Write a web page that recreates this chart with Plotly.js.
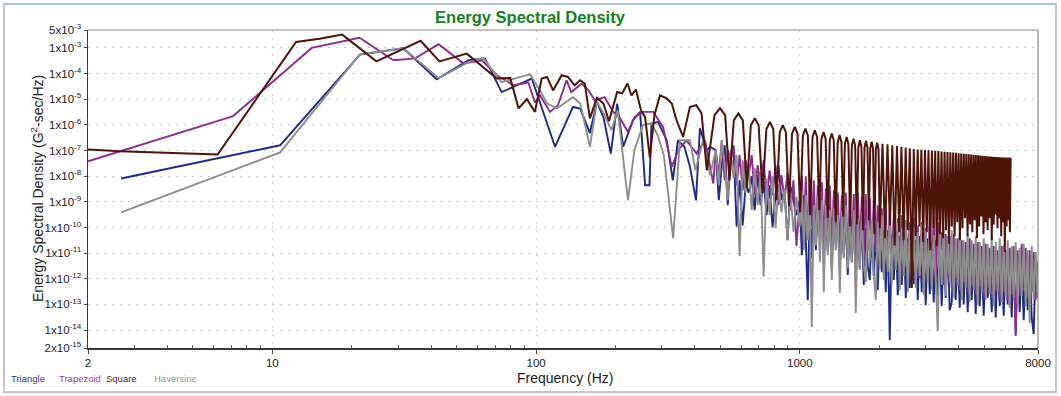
<!DOCTYPE html>
<html><head><meta charset="utf-8">
<script src="https://cdn.plot.ly/plotly-3.0.1.min.js"></script>
<style>
html,body{margin:0;padding:0;background:#fff;}
#wrap{position:relative;width:1061px;height:396px;overflow:hidden;}
#chart{width:1061px;height:396px;}
#frame{position:absolute;left:3px;top:3px;width:1050px;height:386px;border:2px solid #c3c6c9;border-top-color:#a9c3d1;pointer-events:none;}
</style></head><body>
<div id="wrap"><div id="chart"></div><div id="frame"></div></div>
<script>
// ---- tick labels ----
const xTickVals = [2, 10, 100, 1000, 8000];
const xTickText = ['2', '10', '100', '1000', '8000'];
const xMinorVals = [3,4,5,6,7,8,9,20,30,40,50,60,70,80,90,200,300,400,500,600,700,800,900,2000,3000,4000,5000,6000,7000];
const yTickVals = [5e-3,1e-3,1e-4,1e-5,1e-6,1e-7,1e-8,1e-9,1e-10,1e-11,1e-12,1e-13,1e-14,2e-15];
const yTickText = ['5x10<sup>-3</sup>','1x10<sup>-3</sup>','1x10<sup>-4</sup>','1x10<sup>-5</sup>','1x10<sup>-6</sup>','1x10<sup>-7</sup>','1x10<sup>-8</sup>','1x10<sup>-9</sup>','1x10<sup>-10</sup>','1x10<sup>-11</sup>','1x10<sup>-12</sup>','1x10<sup>-13</sup>','1x10<sup>-14</sup>','2x10<sup>-15</sup>'];

// ---- series names ----
const seriesNames = ['Triangle', 'Trapezoid', 'Square', 'Haversine'];

// ---- low / mid frequency parts (Hz, G^2-sec/Hz) ----
const triFreqLow = [2.67,10.7,21.5,31.4,42,55.4,64,74,82,96.3,118,138,147,160,170,180,192,203,214,233,248,259,269,274,290,313,330,345,365,383,404,418,444,457];
const triEsdLow = [8.1e-9,1.6e-7,5.5e-4,9.7e-4,6e-5,3.3e-4,3.9e-4,1.9e-5,3e-5,6.4e-5,1.4e-7,5e-6,4.3e-6,4.8e-7,7.8e-6,2e-6,7.6e-8,6.8e-6,1.4e-7,1.5e-6,3.2e-6,4.4e-9,4.4e-9,1.1e-6,1.3e-6,2.5e-7,6.9e-9,2.5e-7,1.4e-7,2.4e-8,1.15e-9,7.3e-7,1.03e-7,1.4e-7];

const trapFreqLow = [2.0,7.1,14.1,21.4,28.8,34.8,42.7,53,62.3,71,82,93.5,99,103.5,113,121,130.5,136,149,158,167,182,196,207,223,236,254,278,303,327,346,372,406,437,470];
const trapEsdLow = [3.8e-8,2.2e-6,1e-3,2.5e-3,3.3e-4,3.9e-4,1.4e-3,2.5e-4,3.3e-4,8.6e-5,3.5e-5,4.5e-5,7.5e-6,1.4e-5,3.2e-6,5.8e-6,5.5e-5,1.9e-5,4.1e-5,2.2e-5,9.1e-6,1.2e-5,3.2e-6,2e-6,5.3e-7,2e-6,3.2e-6,3.2e-6,8.4e-7,2.3e-8,1.03e-7,2.5e-7,7.6e-8,2.5e-7,5.2e-9];

const havFreqLow = [2.67,10.7,21.5,31.4,42.7,55.4,63.1,74,84.5,94.9,103.5,110,120,138,147,160,170,182,193,204,223,236,254,274,289,305,331,351,383,402,430,457];
const havEsdLow = [3.9e-10,8.5e-8,5.7e-4,9.7e-4,6.6e-5,2.8e-4,4e-4,4.6e-5,6.8e-5,9.3e-5,2.2e-5,6.8e-6,4.4e-6,1.2e-5,6.8e-6,1.4e-7,7.9e-6,2.4e-6,6.2e-7,3.7e-6,1.15e-9,1.03e-7,9.8e-7,1.15e-6,4e-7,6.6e-8,3.8e-11,2.5e-7,2.5e-7,1.7e-8,2.5e-7,1.1e-8];

const sqFreqLow = [2.0,2.65,6.2,12.3,15.1,18.4,24.8,36.5,43,54.6,71,79.8,85.8,92.3,99,105,110,116,125,132,140,147,153,160,170,180,189,203,212,222,230,239,250,259,270,281,295,312,327,341,361,383,405,424,444];
const sqEsdLow = [1.1e-7,9.3e-8,7e-8,1.7e-3,2.3e-3,3.3e-3,3e-4,1.9e-3,3e-4,6e-4,6.4e-5,6.8e-5,4.4e-6,1e-5,3.2e-6,6.4e-5,7.4e-5,2.2e-5,8.6e-5,7.4e-5,3.5e-5,5.5e-5,4.1e-5,1.8e-6,1.15e-5,6.8e-6,1.4e-6,1.9e-5,1.7e-5,4.1e-5,1.4e-5,2.4e-5,3.7e-6,2e-6,5.3e-8,2.4e-6,1.4e-5,1.1e-5,6.8e-6,1.5e-6,3.4e-7,5e-6,5.9e-6,2.8e-6,1.7e-8];

// ---- high frequency part: shared read-out grid (Hz) ----
const hfFreq = [480,493,506,519,533,547,561,576,591,607,623,640,657,674,692,710,729,748,768,788,809,830,852,875,898,922,946,971,
1000,1018,1036,1054,1072,1091,1110,1130,1150,1170,
1191,1212,1233,1255,1277,1299,1322,1346,1369,1393,
1418,1443,1468,1494,1520,1547,1574,1602,1630,1659,
1688,1718,1748,1779,1810,1842,1874,1907,1941,1975,
2010,2045,2081,2118,2155,2193,2232,2271,2311,2352,
2393,2435,2478,2522,2566,2611,2657,2704,2752,2800,
2849,2899,2950,3002,3055,3109,3164,3219,3276,3334,
3392,3452,3513,3574,3637,3701,3767,3833,3900,3969,
4039,4110,4182,4256,4331,4407,4485,4564,4644,4726,
4809,4894,4980,5068,5157,5248,5340,5434,5530,5627,
5726,5827,5930,6034,6140,6248,6358,6470,6584,6700,
6818,6938,7060,7184,7311,7440,7571,7704,7840,7978];

const triEsdHf = [1.03e-7,1.15e-9,2.7e-8,1.6e-7,7.4e-10,6.6e-8,1.03e-7,1.1e-10,6.9e-9,1.2e-10,4.4e-9,2.3e-9,1e-8,4.7e-10,1.1e-8,7.4e-10,6.9e-9,3e-10,4.4e-9,1e-10,1.8e-9,2.7e-8,1.15e-9,2.8e-9,3.2e-11,4e-9,1.15e-9,3e-10,
1.15e-9,8.3e-12,1.8e-9,3.2e-11,1.5e-13,7.4e-10,6.3e-12,1.15e-9,1.3e-11,4.7e-10,
3.8e-11,7.4e-10,4.4e-12,3.9e-10,1.1e-11,5.6e-10,2.6e-12,3e-10,2e-11,3.9e-10,
2.2e-12,1.9e-10,7.6e-12,3e-10,1.4e-12,1.6e-10,4.4e-12,2.3e-10,8.9e-13,1.2e-10,
2.6e-12,1.9e-10,5.7e-13,9.3e-11,3.1e-12,8.9e-13,1.1e-10,1.3e-12,7.8e-11,3.6e-13,
9.3e-11,1.8e-12,6.5e-11,3e-13,7.8e-11,4.1e-15,5e-11,8.9e-13,7.8e-11,2.3e-13,
4.6e-11,5.7e-13,6.5e-11,1.8e-13,3.8e-11,4.4e-13,5.5e-11,6.2e-13,3.2e-11,1.5e-13,
4.6e-11,3e-13,2.7e-11,9.4e-14,3.8e-11,2.5e-13,2.3e-11,1.2e-13,3.2e-11,2.1e-13,
1.9e-11,8.6e-14,2.7e-11,1.8e-13,1.6e-11,6e-14,1.2e-13,2.3e-11,1.5e-13,1.3e-11,
7.2e-14,1.9e-11,1e-13,1.1e-11,5e-14,1.6e-11,1.5e-13,9e-12,4.2e-14,1.3e-11,
8.6e-14,7.6e-12,3.6e-14,1.1e-11,1.8e-13,6.3e-12,5e-14,9e-12,3.1e-14,7.6e-12,
8.6e-14,5.3e-12,3.6e-14,7.6e-12,1e-13,4.4e-12,3.1e-14,6.3e-12,7e-15,4.4e-12,
5e-14,6.3e-12,2.4e-14,4.4e-12,6e-14,7.6e-12,3.1e-14,7e-15,5.3e-12,3.1e-12];

const trapEsdHf = [1.03e-7,1.1e-8,2.5e-7,6.9e-9,1.03e-7,4.2e-8,1.6e-7,4.4e-9,6.6e-8,2.8e-9,4.2e-8,1.1e-8,6.6e-8,1.8e-9,2.7e-8,4.4e-9,4.2e-8,1.15e-9,1.7e-8,1.8e-9,2.7e-8,7.4e-10,1.1e-8,1.15e-9,1.4e-8,4.7e-10,6.9e-9,1.9e-11,
1.15e-9,1.1e-8,7.8e-11,1e-8,3.2e-11,8.3e-9,1.2e-10,6.9e-9,2.7e-11,4.4e-9,
7.8e-11,5.9e-9,2e-11,3.4e-9,5e-11,4.4e-9,1.6e-11,2.8e-9,3.8e-11,2.3e-9,
1.3e-11,1.8e-9,2.7e-11,2.3e-9,8.3e-12,1.4e-9,2e-11,2e-9,6.3e-12,2.3e-9,
1.6e-11,1.6e-9,7.6e-12,2e-9,1.3e-11,1.4e-9,6.3e-12,1.15e-9,1.1e-11,7.4e-10,
4.4e-12,5.6e-10,8.3e-12,4.7e-10,3.4e-12,3.9e-10,6.3e-12,3e-10,2.6e-12,2.3e-10,
4.4e-12,3e-10,1.8e-12,1.9e-10,3.4e-12,1.6e-10,1.4e-12,2.3e-10,2.6e-12,1.2e-10,
1.06e-12,1.6e-10,2.2e-12,9.3e-11,8.9e-13,2.3e-10,1.8e-12,2.7e-10,7.4e-13,1.6e-10,
8.3e-12,6.5e-11,5.7e-13,5.5e-11,1.3e-12,4.6e-11,4.4e-13,5.5e-11,1.06e-12,3.8e-11,
3.6e-13,3.2e-11,7.4e-13,2.7e-11,3e-13,3.8e-11,5.7e-13,2.3e-11,2.5e-13,2.7e-11,
5.2e-13,1.9e-11,2.1e-13,2.3e-11,4.4e-13,1.6e-11,1.8e-13,1.9e-11,3.6e-13,1.3e-11,
1.8e-13,1.9e-11,3e-13,1.3e-11,1.5e-13,1.6e-11,2.5e-13,1.9e-11,5.9e-15,1.3e-11,
2.1e-13,2.3e-11,3.6e-13,1.6e-11,1.8e-13,1.3e-11,3e-13,1.1e-11,1.5e-13,3.8e-12];

const havEsdHf = [1.03e-7,4.4e-9,2.5e-7,2.7e-8,1.15e-9,1.03e-7,8.3e-9,6.6e-8,7.6e-12,4.2e-8,2.3e-9,2.7e-8,4.7e-10,2.1e-8,7.4e-10,1.4e-8,1.2e-12,8.3e-9,3e-10,1e-8,9.3e-11,4.8e-9,3.9e-10,3.4e-9,3.2e-11,2.3e-9,6.5e-11,1.6e-9,
1.1e-10,2.8e-9,1.3e-11,1.8e-9,3.2e-11,1.15e-9,1.3e-14,7.4e-10,2e-11,1.8e-9,
4.4e-12,1.15e-9,3e-13,7.4e-10,8.3e-12,4.7e-10,8.9e-13,5.6e-10,1.3e-11,3e-10,
2.8e-13,4.7e-10,6.3e-12,7.4e-10,2.6e-12,3e-10,4.4e-12,4.7e-10,4.6e-14,2.3e-10,
2.2e-12,3.9e-10,3.4e-12,7.4e-13,3e-10,5.3e-12,1.9e-10,1.4e-12,1.5e-13,1.6e-10,
2.6e-12,3e-10,8.9e-13,1.2e-10,1.8e-12,2.3e-10,5.7e-13,1.1e-10,2.2e-12,1.6e-10,
3.6e-13,9.3e-11,1.3e-12,1.9e-10,3e-13,7.8e-11,8.9e-13,1.2e-10,4.4e-13,6.5e-11,
1.3e-12,1.3e-10,2.3e-13,7.8e-11,7.4e-13,1.1e-10,3.6e-13,5e-11,8.9e-13,9.1e-15,
6.5e-11,5.7e-13,9.3e-11,2.1e-13,4.6e-11,7.4e-13,7.8e-11,1.8e-13,3.8e-11,5.2e-13,
6.5e-11,1.5e-13,3.2e-11,4.4e-13,5.5e-11,1.2e-13,3.2e-11,3.6e-13,4.6e-11,9.4e-14,
2.7e-11,3e-13,3.8e-11,1.5e-13,2.3e-11,2.5e-13,4.6e-11,8.6e-14,2.7e-11,3e-13,
3.8e-11,1.2e-13,2e-11,2.1e-13,3.2e-11,7.2e-14,1.9e-11,1.8e-13,2.7e-11,1e-13,
1.6e-11,2.1e-13,2.3e-11,8.6e-14,1.3e-11,1.9e-14,1.9e-11,1.5e-13,1.1e-11,1.8e-13];

// ---- square pulse lobes (Hz, G^2-sec/Hz) ----
const sqFreqHf = [475,498,521,541, 562,585,608,630, 652,675,698,722, 747,770,793,816, 839,862,885,910, 934,957,980,1003, 1027,1050,1073,1095, 1117,1140,1163,1185, 1207,1230,1253,1276, 1299,1322,1345,1368, 1392,1415,1438,1460, 1482,1505,1528,1552, 1575,1598,1621,1644, 1667,1690,1713,1736, 1759,1782,1805,1827, 1849,1872,1895,1918, 1942,1965,1988,2011,
2058,2104,2150,2196,2242,2288,2335,2382,2428,2474,2520,2566,2612,2658,2705,2752,2798,2844,2890,2936,2982,3028,3075,3122,3168,3214,3260,3306,3352,3398,3445,3492,3538,3584,3630,3676,3722,3768,3815,3862,3908,3954,4000,4046,4092,4138,4185,4232,4278,4324,4370,4416,4462,4508,4555,4602,4648,4694,4740,4786,4832,4878,4925,4972,5018,5064,5110,5156,5202,5248,5295,5342,5388,5434,5480,5526,5572,5618,5665,5712,5758,5804,5850,5896,5942,5988,6035,6082,6128,6174,6220,6260,6300];
const sqEsdHf = [2.4e-6,4.5e-6,2.4e-6,6.9e-9, 1.5e-6,2.8e-6,1.5e-6,3.4e-9, 9.6e-7,1.8e-6,9.6e-7,2.2e-9, 6.9e-7,1.3e-6,6.9e-7,1.15e-9, 5.2e-7,9.8e-7,5.2e-7,6.6e-10, 4.5e-7,8.4e-7,4.5e-7,3.9e-10, 3.8e-7,7.2e-7,3.8e-7,3e-10, 3.3e-7,6.2e-7,3.3e-7,4.7e-10, 2.8e-7,5.3e-7,2.8e-7,2.3e-10, 2.5e-7,4.6e-7,2.5e-7,1.6e-10, 2.1e-7,4e-7,2.1e-7,2.7e-10, 1.8e-7,3.4e-7,1.8e-7,1.1e-10, 1.55e-7,2.9e-7,1.55e-7,1.3e-10, 1.35e-7,2.5e-7,1.35e-7,7.8e-11, 1.3e-7,2.4e-7,1.3e-7,1.9e-10, 1.2e-7,2.2e-7,1.2e-7,5.5e-11, 1.1e-7,2e-7,1.1e-7,9.3e-11,
1.85e-7,3.8e-11,1.77e-7,1.2e-10,1.6e-7,2e-11,1.5e-7,6.5e-11,1.4e-7,3.2e-11,1.3e-7,7.8e-11,1.23e-7,4.4e-13,1.15e-7,4.6e-11,1.1e-7,1.1e-10,1.08e-7,2.7e-11,1.05e-7,6.5e-11,1.03e-7,1.3e-11,1e-7,9.3e-11,9.7e-8,1.9e-11,9.5e-8,5.5e-11,9.2e-8,3.8e-11,9e-8,7.8e-11,8.7e-8,2.3e-11,8.5e-8,1.1e-10,8.3e-8,4.6e-11,8.1e-8,1.6e-10,7.9e-8,3.2e-11,7.7e-8,9.3e-11,7.5e-8,2.3e-10,7.3e-8,4.6e-11,7.2e-8,1.3e-10,7e-8,6.5e-11,6.8e-8,1.9e-10,6.7e-8,3.8e-11,6.5e-8,1.1e-10,6.4e-8,2.7e-10,6.2e-8,5.5e-11,6.1e-8,1.6e-10,6e-8,7.8e-11,5.9e-8,2.3e-10,5.8e-8,3.2e-11,5.7e-8,1.3e-10,5.6e-8,3.2e-10,5.55e-8,9.3e-11,5.5e-8,2.3e-10,5.45e-8,4.6e-11,5.4e-8,1.6e-10,5.4e-8,1.1e-11,5.35e-8,1.1e-10,5.3e-8,1.9e-10,5.3e-8,6.5e-11,5.2e-8];

// ---- styling ----
const colors = {Triangle:'#1d2a8a', Trapezoid:'#8b2d8f', Square:'#4e1309', Haversine:'#8e8e8e'};
const legendColors = {Triangle:'#2b3a8c', Trapezoid:'#9b3d9b', Square:'#5a2414', Haversine:'#9a9a9a'};

function mk(name, x, y, w) {
  return {type:'scatter', mode:'lines', name:name, x:x, y:y,
    line:{color:colors[name], width:w, simplify:false}, hoverinfo:'skip'};
}

const traces = [
  mk('Triangle', triFreqLow.concat(hfFreq), triEsdLow.concat(triEsdHf), 1.9),
  mk('Trapezoid', trapFreqLow.concat(hfFreq), trapEsdLow.concat(trapEsdHf), 1.9),
  mk('Haversine', havFreqLow.concat(hfFreq), havEsdLow.concat(havEsdHf), 1.9),
  mk('Square', sqFreqLow.concat(sqFreqHf), sqEsdLow.concat(sqEsdHf), 2.0)
];

const FONT = 'Liberation Sans, Arial, Helvetica, sans-serif';
const L = 88, R = 23, T = 30, B = 48, W = 1061, H = 396;
const pw = W - L - R, ph = H - T - B;
const px2x = p => (p - L) / pw;
const px2y = p => (H - B - p) / ph;

const legendX = [9, 57, 104, 152];
const annotations = seriesNames.map((n, i) => ({
  text: n, xref:'paper', yref:'paper', x: px2x(legendX[i]), y: px2y(378),
  xanchor:'left', yanchor:'middle', showarrow:false,
  font:{family:FONT, size:9.5, color:legendColors[n]}
}));
annotations.push({text:'Frequency (Hz)', xref:'paper', yref:'paper', x: px2x(565), y: px2y(378),
  xanchor:'center', yanchor:'middle', showarrow:false, font:{family:FONT, size:14, color:'#222'}});
annotations.push({text:'Energy Spectral Density (G<sup>2</sup>-sec/Hz)', xref:'paper', yref:'paper',
  x: px2x(37), y: 0.5, xanchor:'center', yanchor:'middle', textangle:-90, showarrow:false,
  font:{family:FONT, size:14, color:'#222'}});

const layout = {
  width:W, height:H,
  margin:{l:L, r:R, t:T, b:B, pad:0},
  paper_bgcolor:'#ffffff', plot_bgcolor:'#ffffff',
  showlegend:false,
  font:{family:FONT, color:'#222'},
  title:{text:'<b>Energy Spectral Density</b>', font:{family:FONT, size:16.5, color:'#15801f'},
    x:0.4995, xref:'container', xanchor:'center', y:1 - 17/H, yref:'container', yanchor:'middle'},
  xaxis:{type:'log', range:[Math.log10(2), Math.log10(8000)], tickmode:'array',
    tickvals:xTickVals, ticktext:xTickText, ticks:'outside', ticklen:4, tickcolor:'#444', tickwidth:1,
    showline:true, linecolor:'#3a3a3a', linewidth:1.5, mirror:false,
    showgrid:true, gridcolor:'#c8c8c8', griddash:'2px,6px', gridwidth:1, zeroline:false,
    tickfont:{family:FONT, size:11.5, color:'#222'},
    minor:{tickmode:'array', tickvals:xMinorVals, ticks:'inside', ticklen:3, tickcolor:'#666', showgrid:false}},
  yaxis:{type:'log', range:[Math.log10(2e-15), Math.log10(5e-3)], tickmode:'array',
    tickvals:yTickVals, ticktext:yTickText, ticks:'outside', ticklen:3, tickcolor:'#444',
    showline:true, linecolor:'#3a3a3a', linewidth:1.5, mirror:false,
    showgrid:true, gridcolor:'#c8c8c8', griddash:'2px,6px', gridwidth:1, zeroline:false,
    tickfont:{family:FONT, size:11.5, color:'#222'}},
  shapes:[
    {type:'line', xref:'paper', yref:'paper', x0:0, x1:1, y0:1, y1:1, line:{color:'#8a8a8a', width:1.2}},
    {type:'line', xref:'paper', yref:'paper', x0:1, x1:1, y0:0, y1:1, line:{color:'#8a8a8a', width:1.2}}
  ],
  annotations:annotations
};

Plotly.newPlot('chart', traces, layout, {staticPlot:true, displayModeBar:false});
</script></body></html>
